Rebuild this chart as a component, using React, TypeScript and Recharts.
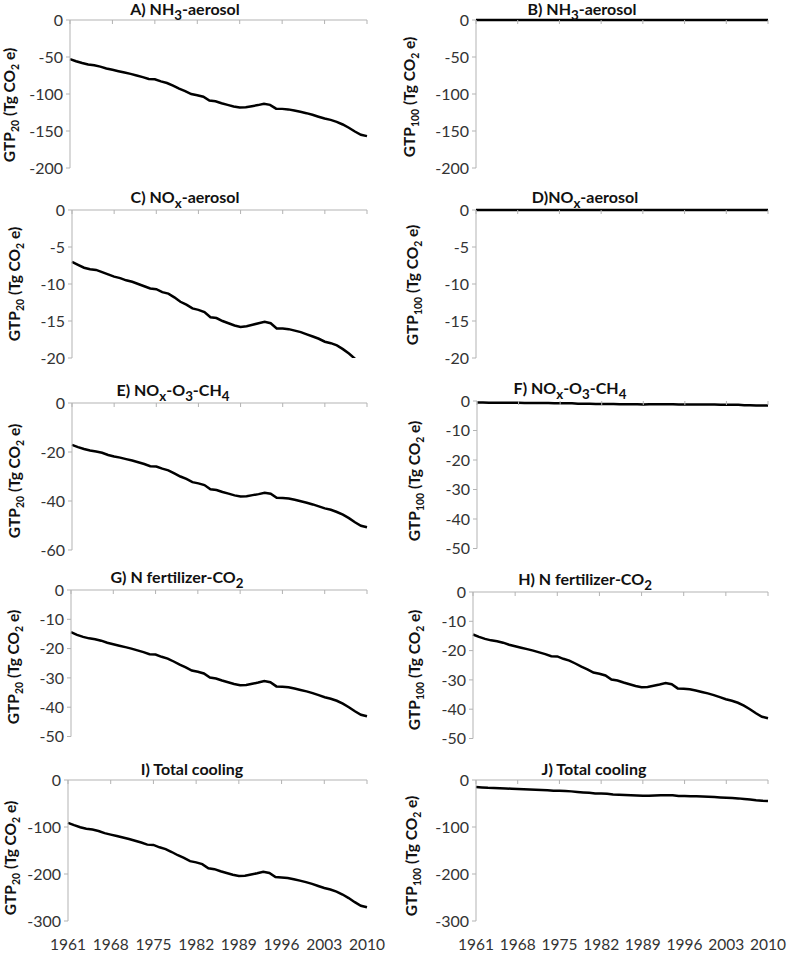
import { LineChart, Line, XAxis, YAxis } from "recharts";

const AXIS = "#b3b3b3";
const TEXT = "#333333";
const FONT = "Lato, 'Open Sans', sans-serif";

const YEARS = [
  1961, 1962, 1963, 1964, 1965, 1966, 1967, 1968, 1969, 1970,
  1971, 1972, 1973, 1974, 1975, 1976, 1977, 1978, 1979, 1980,
  1981, 1982, 1983, 1984, 1985, 1986, 1987, 1988, 1989, 1990,
  1991, 1992, 1993, 1994, 1995, 1996, 1997, 1998, 1999, 2000,
  2001, 2002, 2003, 2004, 2005, 2006, 2007, 2008, 2009, 2010,
];

// A) NH3-aerosol, GTP20
const NH3_GTP20 = [
  -52.8, -55.7, -58.2, -60.1, -61.2, -63.0, -65.5, -67.3, -69.2, -71.0,
  -72.8, -75.0, -77.2, -79.7, -80.1, -83.0, -85.2, -88.8, -92.8, -96.1,
  -100.1, -101.6, -103.7, -108.8, -109.9, -112.5, -114.7, -116.8, -118.3, -117.9,
  -116.5, -115.0, -113.2, -114.7, -119.8, -120.1, -120.8, -122.3, -124.1, -125.9,
  -128.1, -130.7, -133.2, -135.0, -137.6, -141.2, -145.6, -150.7, -155.1, -156.9,
];
// B) NH3-aerosol, GTP100
const NH3_GTP100 = [
  0, 0, 0, 0, 0, 0, 0, 0, 0, 0,
  0, 0, 0, 0, 0, 0, 0, 0, 0, 0,
  0, 0, 0, 0, 0, 0, 0, 0, 0, 0,
  0, 0, 0, 0, 0, 0, 0, 0, 0, 0,
  0, 0, 0, 0, 0, 0, 0, 0, 0, 0,
];
// C) NOx-aerosol, GTP20 (last years run below the axis minimum)
const NOX_AER_GTP20 = [
  -7.0, -7.4, -7.8, -8.0, -8.1, -8.4, -8.7, -9.0, -9.2, -9.5,
  -9.7, -10.0, -10.3, -10.6, -10.7, -11.1, -11.3, -11.8, -12.4, -12.8,
  -13.3, -13.5, -13.8, -14.5, -14.6, -15.0, -15.3, -15.6, -15.8, -15.7,
  -15.5, -15.3, -15.1, -15.3, -16.0, -16.0, -16.1, -16.3, -16.5, -16.8,
  -17.1, -17.4, -17.8, -18.0, -18.3, -18.8, -19.4, -20.1, -20.7, -20.9,
];
// D) NOx-aerosol, GTP100
const NOX_AER_GTP100 = [
  0, 0, 0, 0, 0, 0, 0, 0, 0, 0,
  0, 0, 0, 0, 0, 0, 0, 0, 0, 0,
  0, 0, 0, 0, 0, 0, 0, 0, 0, 0,
  0, 0, 0, 0, 0, 0, 0, 0, 0, 0,
  0, 0, 0, 0, 0, 0, 0, 0, 0, 0,
];
// E) NOx-O3-CH4, GTP20
const NOX_O3_GTP20 = [
  -17.1, -18.0, -18.8, -19.4, -19.8, -20.3, -21.2, -21.8, -22.3, -22.9,
  -23.5, -24.2, -24.9, -25.8, -25.9, -26.8, -27.5, -28.7, -30.0, -31.0,
  -32.3, -32.8, -33.5, -35.2, -35.5, -36.3, -37.0, -37.7, -38.2, -38.1,
  -37.6, -37.2, -36.6, -37.0, -38.7, -38.8, -39.0, -39.5, -40.1, -40.7,
  -41.4, -42.2, -43.0, -43.6, -44.5, -45.6, -47.0, -48.7, -50.1, -50.7,
];
// F) NOx-O3-CH4, GTP100
const NOX_O3_GTP100 = [
  -0.5, -0.5, -0.6, -0.6, -0.6, -0.6, -0.6, -0.6, -0.7, -0.7,
  -0.7, -0.7, -0.7, -0.8, -0.8, -0.8, -0.8, -0.9, -0.9, -0.9,
  -1.0, -1.0, -1.0, -1.0, -1.1, -1.1, -1.1, -1.1, -1.2, -1.1,
  -1.1, -1.1, -1.1, -1.1, -1.2, -1.2, -1.2, -1.2, -1.2, -1.2,
  -1.2, -1.3, -1.3, -1.3, -1.3, -1.4, -1.4, -1.5, -1.5, -1.5,
];
// G) N fertilizer-CO2, GTP20
const NFERT_GTP20 = [
  -14.4, -15.3, -16.0, -16.5, -16.8, -17.3, -18.0, -18.5, -19.0, -19.5,
  -20.0, -20.6, -21.2, -21.9, -22.0, -22.8, -23.4, -24.4, -25.5, -26.4,
  -27.5, -27.9, -28.5, -29.9, -30.2, -30.9, -31.5, -32.1, -32.5, -32.4,
  -32.0, -31.6, -31.1, -31.5, -32.9, -33.0, -33.2, -33.6, -34.1, -34.6,
  -35.2, -35.9, -36.6, -37.1, -37.8, -38.8, -40.0, -41.4, -42.6, -43.1,
];
// H) N fertilizer-CO2, GTP100
const NFERT_GTP100 = [
  -14.5, -15.3, -16.0, -16.5, -16.8, -17.3, -18.0, -18.5, -19.0, -19.5,
  -20.0, -20.6, -21.2, -21.9, -22.0, -22.8, -23.4, -24.4, -25.5, -26.4,
  -27.5, -27.9, -28.5, -29.9, -30.2, -30.9, -31.5, -32.1, -32.5, -32.4,
  -32.0, -31.6, -31.1, -31.5, -32.9, -33.0, -33.2, -33.6, -34.1, -34.6,
  -35.2, -35.9, -36.6, -37.1, -37.8, -38.8, -40.0, -41.4, -42.6, -43.1,
];
// I) Total cooling, GTP20
const TOTAL_GTP20 = [
  -91.1, -96.1, -100.5, -103.6, -105.5, -108.6, -113.0, -116.2, -119.3, -122.5,
  -125.6, -129.4, -133.1, -137.5, -138.2, -143.2, -147.0, -153.2, -160.1, -165.8,
  -172.7, -175.2, -179.0, -187.8, -189.7, -194.1, -197.8, -201.6, -204.1, -203.5,
  -201.0, -198.4, -195.3, -197.8, -206.6, -207.2, -208.5, -211.0, -214.1, -217.3,
  -221.1, -225.5, -229.8, -233.0, -237.4, -243.7, -251.2, -260.0, -267.5, -270.7,
];
// J) Total cooling, GTP100
const TOTAL_GTP100 = [
  -15.0, -15.8, -16.6, -17.1, -17.4, -17.9, -18.6, -19.1, -19.7, -20.2,
  -20.7, -21.3, -21.9, -22.7, -22.8, -23.6, -24.2, -25.3, -26.4, -27.3,
  -28.5, -28.9, -29.5, -30.9, -31.3, -32.0, -32.6, -33.2, -33.7, -33.5,
  -33.1, -32.7, -32.2, -32.6, -34.1, -34.2, -34.4, -34.8, -35.3, -35.8,
  -36.4, -37.2, -37.9, -38.4, -39.1, -40.2, -41.4, -42.9, -44.1, -44.6,
];

const TICKS_200 = [0, -50, -100, -150, -200];
const TICKS_20 = [0, -5, -10, -15, -20];
const TICKS_60 = [0, -20, -40, -60];
const TICKS_50 = [0, -10, -20, -30, -40, -50];
const TICKS_300 = [0, -100, -200, -300];

// zeroLine: the series sits on the zero axis, so the grey axis line is left out under it
const PANELS = [
  { key: "A", values: NH3_GTP20, ticks: TICKS_200, gtp: "20", title: <>A) NH<sub>3</sub>-aerosol</>,
    left: 0, width: 393, plotLeft: 70, plotRight: 367, plotTop: 20, plotH: 148, titleX: 185, titleY: 12, labelX: 12, labelY: 105 },
  { key: "B", values: NH3_GTP100, ticks: TICKS_200, gtp: "100", zeroLine: true, title: <>B) NH<sub>3</sub>-aerosol</>,
    left: 400, width: 387, plotLeft: 476, plotRight: 768, plotTop: 20, plotH: 148, titleX: 582, titleY: 12, labelX: 412, labelY: 97 },
  { key: "C", values: NOX_AER_GTP20, ticks: TICKS_20, gtp: "20", clip: true, title: <>C) NO<sub>x</sub>-aerosol</>,
    left: 0, width: 393, plotLeft: 72, plotRight: 367, plotTop: 209.5, plotH: 148, titleX: 185, titleY: 200, labelX: 17, labelY: 284 },
  { key: "D", values: NOX_AER_GTP100, ticks: TICKS_20, gtp: "100", zeroLine: true, title: <>D)NO<sub>x</sub>-aerosol</>,
    left: 400, width: 387, plotLeft: 476, plotRight: 768, plotTop: 209.5, plotH: 148, titleX: 585, titleY: 200, labelX: 415, labelY: 285 },
  { key: "E", values: NOX_O3_GTP20, ticks: TICKS_60, gtp: "20", title: <>E) NO<sub>x</sub>-O<sub>3</sub>-CH<sub>4</sub></>,
    left: 0, width: 393, plotLeft: 72, plotRight: 367, plotTop: 402.5, plotH: 147, titleX: 173, titleY: 393, labelX: 17, labelY: 481 },
  { key: "F", values: NOX_O3_GTP100, ticks: TICKS_50, gtp: "100", zeroLine: true, title: <>F) NO<sub>x</sub>-O<sub>3</sub>-CH<sub>4</sub></>,
    left: 400, width: 387, plotLeft: 477, plotRight: 768, plotTop: 400.5, plotH: 147.5, titleX: 570, titleY: 391, labelX: 417, labelY: 481 },
  { key: "G", values: NFERT_GTP20, ticks: TICKS_50, gtp: "20", title: <>G) N fertilizer-CO<sub>2</sub></>,
    left: 0, width: 393, plotLeft: 71, plotRight: 367, plotTop: 590, plotH: 146.5, titleX: 177, titleY: 580, labelX: 16, labelY: 667 },
  { key: "H", values: NFERT_GTP100, ticks: TICKS_50, gtp: "100", title: <>H) N fertilizer-CO<sub>2</sub></>,
    left: 400, width: 387, plotLeft: 473, plotRight: 768, plotTop: 591.5, plotH: 146.5, titleX: 585, titleY: 581.5, labelX: 417, labelY: 670 },
  { key: "I", values: TOTAL_GTP20, ticks: TICKS_300, gtp: "20", years: true, title: <>I) Total cooling</>,
    left: 0, width: 393, plotLeft: 68, plotRight: 367, plotTop: 780, plotH: 141, titleX: 192, titleY: 769, labelX: 13, labelY: 858 },
  { key: "J", values: TOTAL_GTP100, ticks: TICKS_300, gtp: "100", years: true, title: <>J) Total cooling</>,
    left: 400, width: 387, plotLeft: 476, plotRight: 768, plotTop: 780, plotH: 141, titleX: 594, titleY: 769, labelX: 414, labelY: 856 },
];

const subStyle = { fontSize: "0.68em" };

function Panel({ p }: { p: any }) {
  const data = YEARS.map((year, i) => ({ year, v: p.values[i] }));
  const mTop = 12;
  const xH = p.years ? 956 - (p.plotTop + p.plotH) : 0;
  const mBottom = p.years ? 0 : 8;
  const height = mTop + p.plotH + xH + mBottom;
  const min = p.ticks[p.ticks.length - 1];

  return (
    <>
      <div style={{ position: "absolute", left: p.left, top: p.plotTop - mTop }}>
        <LineChart
          width={p.width}
          height={height}
          data={data}
          margin={{ top: mTop, right: p.left + p.width - p.plotRight, bottom: mBottom, left: 0 }}
        >
          <XAxis
            xAxisId="t"
            dataKey="year"
            orientation="top"
            mirror
            interval={6}
            tickSize={4}
            tickFormatter={() => ""}
            axisLine={p.zeroLine ? false : { stroke: AXIS }}
            tickLine={{ stroke: AXIS }}
          />
          {p.years && (
            <XAxis
              xAxisId="b"
              dataKey="year"
              interval={6}
              height={xH}
              tickSize={0}
              tickMargin={18}
              axisLine={false}
              tickLine={false}
              tick={{ fill: TEXT, fontSize: 15.5 }}
            />
          )}
          <YAxis
            type="number"
            domain={[min, 0]}
            ticks={p.ticks}
            interval={0}
            width={p.plotLeft - p.left}
            tickSize={4}
            tickMargin={3}
            allowDataOverflow={!!p.clip}
            axisLine={{ stroke: AXIS }}
            tickLine={{ stroke: AXIS }}
            tick={{ fill: TEXT, fontSize: 16 }}
          />
          <Line
            xAxisId="t"
            type="linear"
            dataKey="v"
            stroke="#000"
            strokeWidth={2.5}
            dot={false}
            isAnimationActive={false}
          />
        </LineChart>
      </div>
      <div
        style={{
          position: "absolute",
          left: p.titleX,
          top: p.titleY,
          transform: "translate(-50%, -50%)",
          whiteSpace: "nowrap",
          fontWeight: 700,
          fontSize: 16,
          lineHeight: "16px",
          color: "#111",
        }}
      >
        {p.title}
      </div>
      <div
        style={{
          position: "absolute",
          left: p.labelX,
          top: p.labelY,
          transform: "translate(-50%, -50%) rotate(-90deg)",
          whiteSpace: "nowrap",
          fontWeight: 700,
          fontSize: 15.5,
          lineHeight: "18px",
          color: "#111",
        }}
      >
        GTP<sub style={subStyle}>{p.gtp}</sub> (Tg CO<sub style={subStyle}>2</sub> e)
      </div>
    </>
  );
}

export default function App() {
  return (
    <div
      style={{
        position: "absolute",
        left: 0,
        top: 0,
        width: 787,
        height: 956,
        background: "#fff",
        fontFamily: FONT,
        overflow: "hidden",
      }}
    >
      {PANELS.map((p) => (
        <Panel key={p.key} p={p} />
      ))}
    </div>
  );
}
